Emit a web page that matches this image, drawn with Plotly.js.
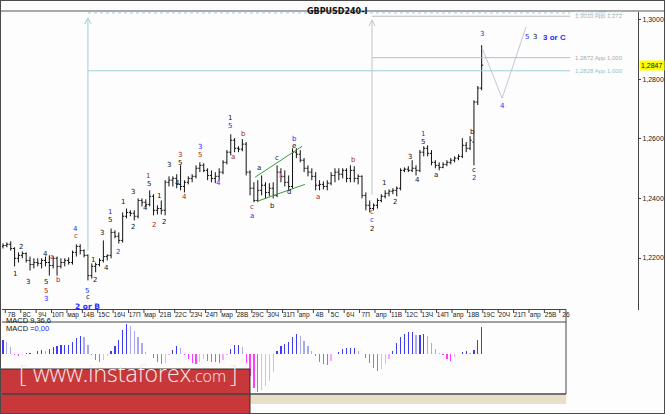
<!DOCTYPE html>
<html><head><meta charset="utf-8">
<script src="https://cdn.plot.ly/plotly-3.0.1.min.js"></script>
<style>html,body{margin:0;padding:0;background:#fdfdfd;}#c{width:665px;height:414px;}</style>
</head><body><div id="c"></div>
<script>
// ---- DATA ----
const opens = [1.2239,1.2242,1.2246,1.2232,1.2199,1.2209,1.2215,1.2192,1.2178,1.2185,1.2182,1.2192,1.2185,1.2175,1.2199,1.2172,1.2185,1.2192,1.2185,1.2219,1.2239,1.2225,1.2209,1.2141,1.2172,1.2178,1.2192,1.2205,1.2209,1.2286,1.2273,1.2259,1.2340,1.2353,1.2350,1.2340,1.2393,1.2387,1.2380,1.2407,1.2360,1.2366,1.2360,1.2454,1.2461,1.2467,1.2447,1.2440,1.2454,1.2467,1.2474,1.2501,1.2511,1.2494,1.2477,1.2467,1.2474,1.2488,1.2521,1.2555,1.2595,1.2568,1.2565,1.2582,1.2488,1.2434,1.2393,1.2427,1.2444,1.2420,1.2434,1.2410,1.2488,1.2474,1.2454,1.2440,1.2555,1.2548,1.2528,1.2501,1.2488,1.2474,1.2444,1.2447,1.2440,1.2451,1.2477,1.2488,1.2481,1.2494,1.2467,1.2494,1.2467,1.2474,1.2410,1.2377,1.2366,1.2377,1.2393,1.2407,1.2417,1.2424,1.2427,1.2434,1.2494,1.2498,1.2494,1.2501,1.2494,1.2555,1.2568,1.2551,1.2521,1.2511,1.2504,1.2514,1.2521,1.2528,1.2535,1.2541,1.2578,1.2568,1.2589,1.2723,1.2770];
const highs = [1.2249,1.2252,1.2256,1.2236,1.2219,1.2222,1.2219,1.2205,1.2199,1.2199,1.2199,1.2205,1.2209,1.2205,1.2205,1.2199,1.2199,1.2202,1.2225,1.2246,1.2246,1.2229,1.2212,1.2182,1.2185,1.2199,1.2259,1.2212,1.2299,1.2293,1.2286,1.2353,1.2366,1.2360,1.2360,1.2400,1.2400,1.2397,1.2427,1.2414,1.2377,1.2393,1.2461,1.2474,1.2474,1.2481,1.2511,1.2461,1.2474,1.2481,1.2511,1.2521,1.2518,1.2501,1.2494,1.2488,1.2501,1.2528,1.2562,1.2615,1.2602,1.2575,1.2599,1.2589,1.2494,1.2454,1.2461,1.2477,1.2454,1.2451,1.2454,1.2511,1.2501,1.2494,1.2477,1.2568,1.2568,1.2562,1.2535,1.2511,1.2501,1.2488,1.2461,1.2457,1.2461,1.2488,1.2501,1.2501,1.2501,1.2501,1.2511,1.2508,1.2481,1.2477,1.2420,1.2393,1.2383,1.2400,1.2414,1.2427,1.2430,1.2434,1.2440,1.2501,1.2504,1.2508,1.2528,1.2511,1.2562,1.2575,1.2578,1.2562,1.2528,1.2521,1.2521,1.2528,1.2535,1.2541,1.2548,1.2602,1.2589,1.2609,1.2729,1.2777,1.2914];
const lows = [1.2232,1.2236,1.2225,1.2172,1.2185,1.2199,1.2185,1.2158,1.2165,1.2172,1.2165,1.2172,1.2141,1.2165,1.2141,1.2165,1.2172,1.2178,1.2178,1.2205,1.2212,1.2202,1.2125,1.2131,1.2152,1.2172,1.2185,1.2192,1.2199,1.2266,1.2249,1.2252,1.2333,1.2340,1.2326,1.2333,1.2373,1.2370,1.2373,1.2343,1.2346,1.2346,1.2343,1.2440,1.2440,1.2434,1.2427,1.2420,1.2447,1.2454,1.2467,1.2488,1.2488,1.2461,1.2454,1.2451,1.2461,1.2481,1.2514,1.2545,1.2555,1.2555,1.2558,1.2477,1.2410,1.2387,1.2387,1.2410,1.2400,1.2407,1.2400,1.2404,1.2454,1.2440,1.2427,1.2434,1.2535,1.2521,1.2488,1.2474,1.2461,1.2427,1.2427,1.2430,1.2427,1.2444,1.2454,1.2461,1.2467,1.2454,1.2454,1.2454,1.2447,1.2400,1.2360,1.2353,1.2360,1.2366,1.2387,1.2400,1.2407,1.2414,1.2407,1.2427,1.2488,1.2488,1.2488,1.2477,1.2488,1.2541,1.2541,1.2511,1.2501,1.2494,1.2501,1.2508,1.2514,1.2521,1.2528,1.2535,1.2555,1.2562,1.2511,1.2713,1.2763];
const closes = [1.2242,1.2246,1.2232,1.2199,1.2209,1.2215,1.2192,1.2178,1.2185,1.2182,1.2192,1.2185,1.2175,1.2199,1.2172,1.2185,1.2192,1.2185,1.2219,1.2239,1.2225,1.2209,1.2141,1.2172,1.2178,1.2192,1.2205,1.2209,1.2286,1.2273,1.2259,1.2340,1.2353,1.2350,1.2340,1.2393,1.2387,1.2380,1.2407,1.2360,1.2366,1.2360,1.2454,1.2461,1.2467,1.2447,1.2440,1.2454,1.2467,1.2474,1.2501,1.2511,1.2494,1.2477,1.2467,1.2474,1.2488,1.2521,1.2555,1.2595,1.2568,1.2565,1.2582,1.2488,1.2434,1.2393,1.2427,1.2444,1.2420,1.2434,1.2410,1.2488,1.2474,1.2454,1.2440,1.2555,1.2548,1.2528,1.2501,1.2488,1.2474,1.2444,1.2447,1.2440,1.2451,1.2477,1.2488,1.2481,1.2494,1.2467,1.2494,1.2467,1.2474,1.2410,1.2377,1.2366,1.2377,1.2393,1.2407,1.2417,1.2424,1.2427,1.2434,1.2494,1.2498,1.2494,1.2501,1.2494,1.2555,1.2568,1.2551,1.2521,1.2511,1.2504,1.2514,1.2521,1.2528,1.2535,1.2541,1.2578,1.2568,1.2595,1.2723,1.2770,1.2847];
const macd = [0.0015,0.0013,0.0007,-0.0002,-0.0003,-0.0002,0.0001,0.0001,-0.0001,0.0003,0.0004,0.0003,0.0005,0.0007,0.0008,0.0009,0.0009,0.0010,0.0013,0.0017,0.0020,0.0018,0.0009,-0.0002,-0.0007,-0.0009,-0.0007,-0.0003,0.0003,0.0008,0.0015,0.0026,0.0033,0.0031,0.0025,0.0018,0.0012,0.0002,-0.0001,-0.0005,-0.0009,-0.0012,-0.0010,-0.0002,0.0004,0.0008,0.0006,-0.0002,-0.0006,-0.0010,-0.0012,-0.0009,-0.0006,-0.0008,-0.0009,-0.0009,-0.0010,-0.0007,-0.0002,0.0005,0.0009,0.0009,0.0007,-0.0010,-0.0025,-0.0038,-0.0043,-0.0040,-0.0036,-0.0030,-0.0020,0.0003,0.0008,0.0011,0.0013,0.0018,0.0022,0.0020,0.0014,0.0008,0.0003,-0.0003,-0.0009,-0.0012,-0.0013,-0.0008,-0.0001,0.0002,0.0005,0.0006,0.0006,0.0006,0.0003,-0.0001,-0.0005,-0.0010,-0.0016,-0.0019,-0.0017,-0.0012,-0.0006,0.0003,0.0012,0.0018,0.0022,0.0024,0.0024,0.0021,0.0021,0.0022,0.0019,0.0012,0.0005,0.0001,-0.0002,-0.0006,-0.0008,-0.0004,-0.0001,0.0002,0.0003,0.0001,0.0004,0.0015,0.0030];
const timeLabels = ["7В","8С","9Ч","10П","мар","14В","15С","16Ч","17П","мар","21В","22С","23Ч","24П","мар","28В","29С","30Ч","31П","апр","4В","5С","6Ч","7П","апр","11В","12С","13Ч","14П","апр","18В","19С","20Ч","21П","апр","25В","26"];
const priceTicks = [1.22,1.24,1.26,1.28,1.30];
const priceTickText = ["1,2200","1,2400","1,2600","1,2800","1,3000"];
const lastPrice = 1.2847;
const projX = [124.1,129.3,135.5];
const projY = [1.2905,1.2736,1.2975];

// ---- LAYOUT HELPERS ----
const W=665,H=414;
const PX=p=>p/W, PY=p=>1-p/H;
const idx = opens.map((_,i)=>i);
const SF='Liberation Sans';

const C = {k:'#111111', r:'#a0282c', b:'#2a2aff', m:'#ff33ff'};
const waveLabels = [
 ["1",3.1,1.2148,'k'],["2",4.7,1.2236,'k'],["3",6.5,1.2118,'k'],["4",11.1,1.2212,'k'],["a",12.7,1.2202,'r'],
 ["5",11.1,1.2118,'k'],["5",11.1,1.2091,'r'],["3",11.1,1.2064,'b'],["b",14.5,1.2125,'r'],
 ["4",18.9,1.2296,'b'],["c",18.9,1.2273,'r'],["5",21.8,1.2091,'b'],["c",22.0,1.2068,'k'],
 ["1",23.3,1.2195,'k'],["2",23.8,1.2125,'k'],["3",25.6,1.2283,'k'],["4",26.9,1.2168,'k'],
 ["5",27.7,1.2326,'k'],["1",27.7,1.2353,'b'],["2",29.8,1.2219,'b'],["1",31.1,1.2387,'k'],
 ["2",33.7,1.2303,'k'],["3",33.7,1.2420,'k'],["4",37.0,1.2367,'k'],["1",37.6,1.2474,'r'],
 ["5",37.8,1.2447,'k'],["2",39.1,1.2310,'r'],["1",40.4,1.2407,'k'],["2",41.7,1.2320,'k'],
 ["3",43.0,1.2511,'k'],["4",45.1,1.2451,'k'],["3",45.9,1.2545,'r'],["5",45.9,1.2518,'k'],
 ["4",46.9,1.2404,'r'],["3",51.0,1.2572,'b'],["5",51.0,1.2545,'r'],["4",55.7,1.2451,'b'],
 ["1",58.8,1.2669,'k'],["5",58.8,1.2642,'b'],["a",59.6,1.2538,'r'],["b",62.2,1.2615,'r'],
 ["c",64.5,1.2370,'r'],["a",64.5,1.2340,'b'],["a",66.3,1.2501,'k'],["b",69.7,1.2373,'k'],
 ["c",71.0,1.2535,'k'],["d",74.1,1.2420,'k'],["e",75.4,1.2575,'k'],["b",75.4,1.2600,'b'],
 ["L",72.0,1.2474,'m'],
 ["a",81.6,1.2404,'r'],["b",90.7,1.2528,'r'],["c",95.6,1.2353,'r'],["c",95.6,1.2326,'b'],
 ["2",95.6,1.2299,'k'],["1",98.7,1.2451,'k'],["2",101.6,1.2387,'k'],["3",105.4,1.2538,'k'],
 ["4",107.5,1.2461,'k'],["5",108.8,1.2588,'k'],["1",108.8,1.2615,'b'],["a",112.2,1.2478,'k'],
 ["b",121.5,1.2622,'k'],["c",122.0,1.2494,'k'],["2",122.0,1.2467,'b'],
 ["3",124.1,1.2951,'b'],["4",129.3,1.2709,'b'],["5",135.8,1.2941,'b'],["3",137.9,1.2941,'k']
];

const ann = waveLabels.map(w=>({text:w[0],x:w[1],y:w[2],xref:'x',yref:'y',showarrow:false,
  font:{family:'DejaVu Sans',size:7,color:C[w[3]]}}));
ann.push({text:'<b>2 or B</b>',x:22.0,y:1.2038,xref:'x',yref:'y',showarrow:false,font:{family:'DejaVu Sans',size:7.5,color:C.b}});
ann.push({text:'<b>3 or C</b>',x:139.4,y:1.2941,xref:'x',yref:'y',xanchor:'left',showarrow:false,font:{family:SF,size:8,color:C.b}});
// level labels
const lvl=(t,y,c)=>({text:t,x:147.6,y:y,xref:'x',yref:'y',xanchor:'left',showarrow:false,font:{family:SF,size:6,color:c}});
ann.push(lvl('1,3018 App 1,272',1.3021,'#a8d4e0'));
ann.push(lvl('1,3010 App 1,272',1.3012,'#b4b4b4'));
ann.push(lvl('1,2872 App 1,000',1.2872,'#aaaaaa'));
ann.push(lvl('1,2828 App 1,000',1.2828,'#8cc6d6'));
// title
ann.push({text:'<b>GBPUSD240-I</b>',x:PX(337),y:PY(5.5),xref:'paper',yref:'paper',showarrow:false,font:{family:'DejaVu Sans',size:8,color:'#111'}});
// price tag
ann.push({text:'1,2847',x:PX(639),y:lastPrice,xref:'paper',yref:'y',xanchor:'left',showarrow:false,bgcolor:'#ffff00',borderpad:1,font:{family:SF,size:7,color:'#111'}});
// MACD labels
ann.push({text:'MACD 9,36,6',x:PX(4),y:PY(327),xref:'paper',yref:'paper',xanchor:'left',showarrow:false,font:{family:SF,size:7.5,color:'#111'}});
ann.push({text:'MACD =<span style="color:#2a2aff">0,00</span>',x:PX(4),y:PY(335),xref:'paper',yref:'paper',xanchor:'left',showarrow:false,font:{family:SF,size:7.5,color:'#111'}});
// banner
const bf={family:'Open Sans',size:23,color:'#f6e6e6',weight:300};
ann.push({text:'[',x:PX(17),y:PY(391),xref:'paper',yref:'paper',showarrow:false,font:bf});
ann.push({text:'www.instaforex<span style="font-size:16px">.com</span>',x:PX(31),y:PY(391),xref:'paper',yref:'paper',xanchor:'left',showarrow:false,font:bf});
ann.push({text:']',x:PX(233),y:PY(391),xref:'paper',yref:'paper',showarrow:false,font:bf});

// shapes
const shapes=[];
const pline=(x0,y0,x1,y1,c,w,d)=>shapes.push({type:'line',xref:'paper',yref:'paper',x0:PX(x0),y0:PY(y0),x1:PX(x1),y1:PY(y1),line:{color:c,width:w||1,dash:d||'solid'}});
const dline=(x0,y0,x1,y1,c,d)=>shapes.push({type:'line',xref:'x',yref:'y',x0:x0,y0:y0,x1:x1,y1:y1,line:{color:c,width:1,dash:d||'solid'}});
shapes.push({type:'rect',xref:'paper',yref:'paper',x0:PX(250),x1:PX(566),y0:PY(404),y1:PY(395),fillcolor:'#e8e0c6',line:{width:0},layer:'below'});
shapes.push({type:'rect',xref:'paper',yref:'paper',x0:0,x1:PX(250),y0:0,y1:PY(369),fillcolor:'#c8373a',line:{color:'#3a2a2a',width:1}});
pline(0,11,665,11,'#555');
pline(2,309.5,566,309.5,'#444');
pline(2,322,566,322,'#444');
pline(566,309.5,566,394,'#444');
pline(2,394,566,394,'#444',1.5);
shapes.push({type:'rect',xref:'paper',yref:'paper',x0:0,x1:1,y0:0,y1:1,line:{color:'#4a4a4a',width:2}});
// separators on time row
for(let k=0;k<timeLabels.length;k++){const sx=0.6+3.99*k;shapes.push({type:'line',xref:'x',yref:'paper',x0:sx,x1:sx,y0:PY(309.5),y1:PY(313),line:{color:'#444',width:1}});}
// levels
const LB='#9fd0dc', LG='#bdbdbd';
dline(22.0,1.3022,146.9,1.3022,LB,'dot');
dline(95.6,1.3011,146.9,1.3011,LG);
dline(95.6,1.2872,146.9,1.2872,LG);
dline(22.0,1.2828,146.9,1.2828,LB);
dline(22.0,1.2225,22.0,1.3005,LB);
dline(21.2,1.2985,22.0,1.3005,LB);dline(22.8,1.2985,22.0,1.3005,LB);
dline(95.6,1.2412,95.6,1.2998,'#c4c4c4');
dline(94.8,1.2978,95.6,1.2998,'#c4c4c4');dline(96.4,1.2978,95.6,1.2998,'#c4c4c4');
// triangle lines
dline(65.3,1.2471,77.5,1.2575,'#3a9a3a');
dline(65.8,1.2390,78.2,1.2447,'#3a9a3a');

// MACD colors from values
const mcol = macd.map((v,i)=>{const p=i?macd[i-1]:v; return v>=0 ? (v>=p?'#3c3cf4':'#a8a8f4') : (v<=p?'#ff3cff':'#ffa4ff');});

const traces=[
 {type:'ohlc',x:idx,open:opens,high:highs,low:lows,close:closes,xaxis:'x',yaxis:'y',
  increasing:{line:{color:'#111',width:1}},decreasing:{line:{color:'#111',width:1}},tickwidth:0.4,hoverinfo:'none',showlegend:false},
 {type:'scatter',mode:'lines',x:projX,y:projY,xaxis:'x',yaxis:'y',line:{color:'#c9c3da',width:1},hoverinfo:'none',showlegend:false},
 {type:'bar',x:idx,y:macd,xaxis:'x2',yaxis:'y2',width:0.32,marker:{color:mcol,line:{width:0}},hoverinfo:'none',showlegend:false}
];

const layout={
 width:W,height:H,margin:{l:0,r:0,t:0,b:0},paper_bgcolor:'#fdfdfd',plot_bgcolor:'rgba(0,0,0,0)',
 showlegend:false,font:{family:SF,size:7,color:'#222'},
 xaxis:{domain:[PX(2),PX(638)],range:[-0.26,164.5],anchor:'y',showgrid:false,zeroline:false,showline:false,
   tickmode:'array',tickvals:timeLabels.map((_,k)=>2.2+3.99*k),ticktext:timeLabels,ticks:'',tickangle:0,tickfont:{family:SF,size:6.5,color:'#222'},rangeslider:{visible:false},fixedrange:true},
 yaxis:{domain:[PY(309.5),PY(12)],range:[1.20273,1.30252],anchor:'x',side:'right',showgrid:false,zeroline:false,
   showline:true,linecolor:'#444',linewidth:1,ticks:'outside',ticklen:2,tickcolor:'#444',tickvals:priceTicks,ticktext:priceTickText,tickfont:{family:SF,size:7,color:'#222'},fixedrange:true},
 xaxis2:{domain:[PX(2),PX(566)],range:[-0.26,145.85],anchor:'y2',showgrid:false,zeroline:false,showline:false,showticklabels:false,ticks:'',fixedrange:true},
 yaxis2:{domain:[PY(394),PY(322)],range:[-0.0045,0.0035],anchor:'x2',showgrid:false,zeroline:false,showline:false,showticklabels:false,ticks:'',fixedrange:true},
 bargap:0,shapes:shapes,annotations:ann
};
Plotly.newPlot('c',traces,layout,{staticPlot:true,displayModeBar:false});
</script></body></html>
